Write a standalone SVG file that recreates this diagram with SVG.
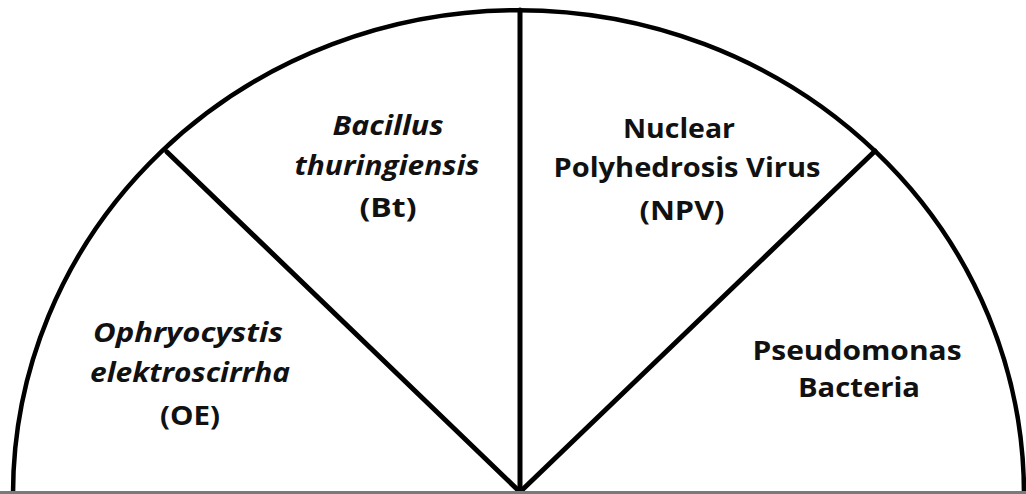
<svg xmlns="http://www.w3.org/2000/svg" width="1026" height="494" viewBox="0 0 1026 494">
<style>
.ln{fill:none;stroke:#000;stroke-width:5;stroke-linecap:round}
.arc{fill:none;stroke:#000;stroke-width:4.5}
.t{font-family:"Open Sans","Liberation Sans",sans-serif;font-weight:700;font-size:26px;fill:#111;text-anchor:middle}
.i{font-style:italic}
</style>
<rect width="1026" height="494" fill="#fff"/>
<g id="connectors">
<path class="arc" d="M 13 494 A 505.5 484 0 0 1 1024 494"/>
<line class="ln" x1="520" y1="10" x2="520" y2="492"/>
<line class="ln" x1="167" y1="152" x2="520" y2="492"/>
<line class="ln" x1="875" y1="151" x2="520" y2="492"/>
<line x1="0" y1="492.5" x2="1026" y2="492.5" stroke="#7a7a7a" stroke-width="3"/>
</g>
<g id="oe">
<text class="t i" x="188" y="342" textLength="190" lengthAdjust="spacingAndGlyphs">Ophryocystis</text>
<text class="t i" x="190" y="382" textLength="200" lengthAdjust="spacingAndGlyphs">elektroscirrha</text>
<text class="t" x="190" y="425" textLength="60" lengthAdjust="spacingAndGlyphs">(OE)</text>
</g>
<g id="bt">
<text class="t i" x="388" y="135" textLength="111" lengthAdjust="spacingAndGlyphs">Bacillus</text>
<text class="t i" x="387" y="175" textLength="185" lengthAdjust="spacingAndGlyphs">thuringiensis</text>
<text class="t" x="388" y="217" textLength="57" lengthAdjust="spacingAndGlyphs">(Bt)</text>
</g>
<g id="npv">
<text class="t" x="679" y="138" textLength="112" lengthAdjust="spacingAndGlyphs">Nuclear</text>
<text class="t" x="687" y="177" textLength="267" lengthAdjust="spacingAndGlyphs">Polyhedrosis Virus</text>
<text class="t" x="682" y="220" textLength="85" lengthAdjust="spacingAndGlyphs">(NPV)</text>
</g>
<g id="pseudomonas">
<text class="t" x="857" y="360" textLength="209" lengthAdjust="spacingAndGlyphs">Pseudomonas</text>
<text class="t" x="859" y="397" textLength="122" lengthAdjust="spacingAndGlyphs">Bacteria</text>
</g>
</svg>
